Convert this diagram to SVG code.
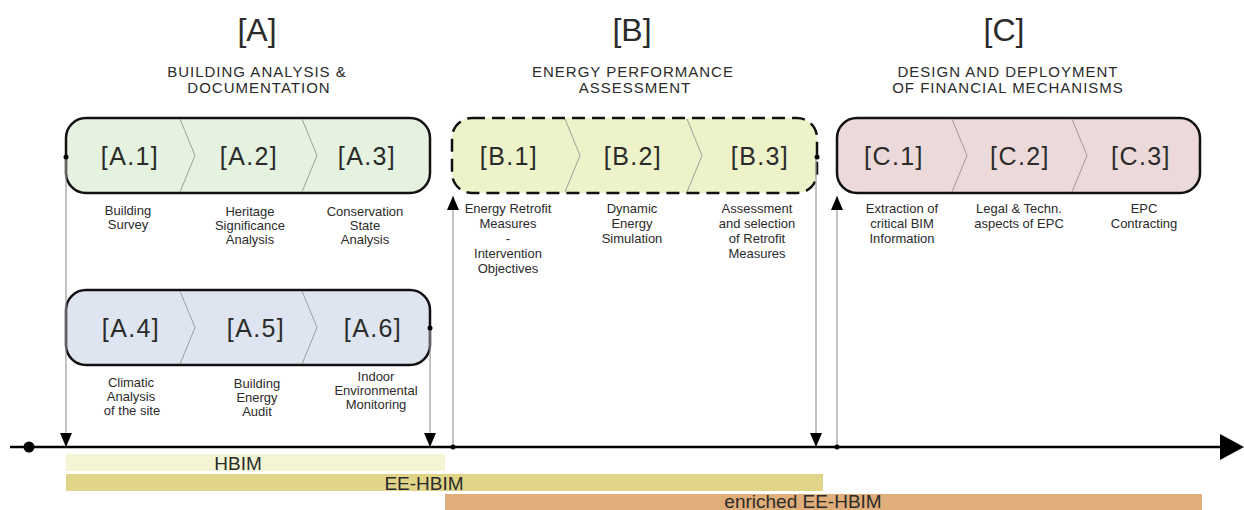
<svg xmlns="http://www.w3.org/2000/svg" width="1244" height="510" viewBox="0 0 1244 510">
<defs>
<marker id="ah" viewBox="0 0 14 12" refX="14" refY="6" markerWidth="14" markerHeight="12" markerUnits="userSpaceOnUse" orient="auto">
<path d="M0,0 L14,6 L0,12 z" fill="#000"/>
</marker>
<style>
text{font-family:"Liberation Sans",Arial,sans-serif;fill:#2b2b2b;text-anchor:middle}
.big{font-size:32px}
.sub{font-size:15px;letter-spacing:1px}
.box{stroke:#111;stroke-width:2.5}
.dash{stroke-dasharray:13 7}
.lab{font-size:25px;letter-spacing:1.4px}
.cap{font-size:13px}
.sep{fill:none;stroke:#8a8a8a;stroke-width:0.8}
.conn{stroke:#9a9a9a;stroke-width:1.2;fill:none}
.bar{font-size:19px}
</style>
</defs>
<rect width="1244" height="510" fill="#fff"/>

<g id="title-A">
<text class="big" x="257" y="41">[A]</text>
<text class="sub" x="257" y="77">BUILDING ANALYSIS &amp;</text>
<text class="sub" x="259" y="93">DOCUMENTATION</text>
</g>
<g id="title-B">
<text class="big" x="632" y="41">[B]</text>
<text class="sub" x="633" y="77">ENERGY PERFORMANCE</text>
<text class="sub" x="635" y="93">ASSESSMENT</text>
</g>
<g id="title-C">
<text class="big" x="1004" y="41">[C]</text>
<text class="sub" x="1008" y="77">DESIGN AND DEPLOYMENT</text>
<text class="sub" x="1008" y="93">OF FINANCIAL MECHANISMS</text>
</g>

<g id="box-A1-A3">
<rect class="box" x="66" y="118" width="364" height="75" rx="20" fill="#e4f2df"/>
<polyline class="sep" points="180,119 195,155.5 180,192"/>
<polyline class="sep" points="302,119 317,155.5 302,192"/>
<text class="lab" x="130" y="165">[A.1]</text>
<text class="lab" x="249" y="165">[A.2]</text>
<text class="lab" x="367" y="165">[A.3]</text>
<text class="cap" x="128" y="215">Building</text>
<text class="cap" x="128" y="229">Survey</text>
<text class="cap" x="250" y="216">Heritage</text>
<text class="cap" x="250" y="230">Significance</text>
<text class="cap" x="250" y="244">Analysis</text>
<text class="cap" x="365" y="216">Conservation</text>
<text class="cap" x="365" y="230">State</text>
<text class="cap" x="365" y="244">Analysis</text>
</g>

<g id="box-A4-A6">
<rect class="box" x="66" y="290" width="364" height="75" rx="20" fill="#dee5f0"/>
<polyline class="sep" points="180,291 195,327.5 180,364"/>
<polyline class="sep" points="302,291 317,327.5 302,364"/>
<text class="lab" x="131" y="337">[A.4]</text>
<text class="lab" x="256" y="337">[A.5]</text>
<text class="lab" x="373" y="337">[A.6]</text>
<text class="cap" x="131" y="387">Climatic</text>
<text class="cap" x="131" y="401">Analysis</text>
<text class="cap" x="132" y="415">of the site</text>
<text class="cap" x="257" y="388">Building</text>
<text class="cap" x="257" y="402">Energy</text>
<text class="cap" x="257" y="416">Audit</text>
<text class="cap" x="376" y="381">Indoor</text>
<text class="cap" x="376" y="395">Environmental</text>
<text class="cap" x="376" y="409">Monitoring</text>
</g>

<g id="box-B">
<rect class="box dash" x="452" y="118" width="365" height="75" rx="20" fill="#eef2c9"/>
<polyline class="sep" points="565,119 580,155.5 565,192"/>
<polyline class="sep" points="687,119 702,155.5 687,192"/>
<text class="lab" x="509" y="165">[B.1]</text>
<text class="lab" x="633" y="165">[B.2]</text>
<text class="lab" x="760" y="165">[B.3]</text>
<text class="cap" x="508" y="213">Energy Retrofit</text>
<text class="cap" x="508" y="228">Measures</text>
<text class="cap" x="508" y="243">-</text>
<text class="cap" x="508" y="258">Intervention</text>
<text class="cap" x="508" y="273">Objectives</text>
<text class="cap" x="632" y="213">Dynamic</text>
<text class="cap" x="632" y="228">Energy</text>
<text class="cap" x="632" y="243">Simulation</text>
<text class="cap" x="757" y="213">Assessment</text>
<text class="cap" x="757" y="228">and selection</text>
<text class="cap" x="757" y="243">of Retrofit</text>
<text class="cap" x="757" y="258">Measures</text>
</g>

<g id="box-C">
<rect class="box" x="837" y="118" width="363" height="75" rx="20" fill="#ecd9d9"/>
<polyline class="sep" points="952,119 967,155.5 952,192"/>
<polyline class="sep" points="1072,119 1087,155.5 1072,192"/>
<text class="lab" x="894" y="165">[C.1]</text>
<text class="lab" x="1020" y="165">[C.2]</text>
<text class="lab" x="1141" y="165">[C.3]</text>
<text class="cap" x="902" y="213">Extraction of</text>
<text class="cap" x="902" y="228">critical BIM</text>
<text class="cap" x="902" y="243">Information</text>
<text class="cap" x="1019" y="213">Legal &amp; Techn.</text>
<text class="cap" x="1019" y="228">aspects of EPC</text>
<text class="cap" x="1144" y="213">EPC</text>
<text class="cap" x="1144" y="228">Contracting</text>
</g>

<g id="bars">
<rect x="66" y="454" width="379" height="17" fill="#f4f6d3"/>
<text class="bar" x="238" y="470">HBIM</text>
<rect x="66" y="474" width="757" height="17" fill="#e0d489"/>
<text class="bar" x="424" y="490">EE-HBIM</text>
<rect x="445" y="494" width="757" height="16" fill="#dfae7a"/>
<text class="bar" x="803" y="508">enriched EE-HBIM</text>
</g>

<g id="connectors">
<line class="conn" x1="66" y1="157" x2="66" y2="447" marker-end="url(#ah)"/>
<line class="conn" x1="430" y1="328" x2="430" y2="447" marker-end="url(#ah)"/>
<line class="conn" x1="816" y1="157" x2="816" y2="447" marker-end="url(#ah)"/>
<line class="conn" x1="453" y1="447" x2="453" y2="196" marker-end="url(#ah)"/>
<line class="conn" x1="837" y1="447" x2="837" y2="196" marker-end="url(#ah)"/>
<circle cx="66" cy="157" r="2.5" fill="#000"/>
<circle cx="430" cy="328" r="2.5" fill="#000"/>
<circle cx="817" cy="157" r="2.5" fill="#000"/>
</g>

<g id="timeline">
<line x1="10" y1="447" x2="1224" y2="447" stroke="#000" stroke-width="2.5"/>
<polygon points="1220,434 1244,447 1220,460" fill="#000"/>
<circle cx="29" cy="447" r="5.5" fill="#000"/>
<circle cx="453" cy="447" r="2.5" fill="#000"/>
<circle cx="837" cy="447" r="2.5" fill="#000"/>
</g>
</svg>
